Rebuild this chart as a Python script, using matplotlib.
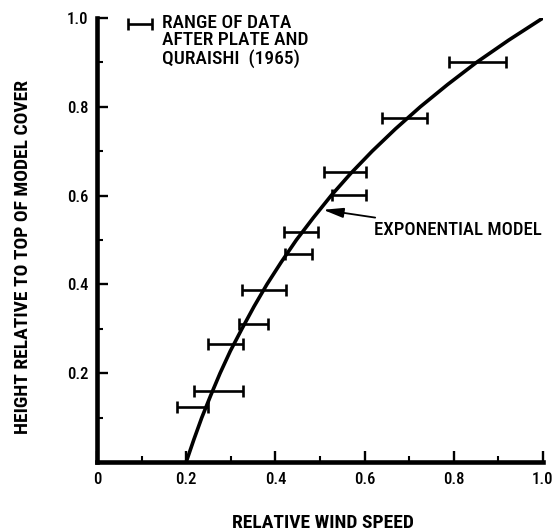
import matplotlib
matplotlib.use("Agg")
import matplotlib.pyplot as plt
from matplotlib import font_manager
import numpy as np

installed = {f.name for f in font_manager.fontManager.ttflist}
preferred = ['Roboto Condensed', 'PT Sans Narrow', 'Archivo Narrow', 'Liberation Sans Narrow']
family = [f for f in preferred if f in installed] + ['DejaVu Sans']
plt.rcParams['font.family'] = family
plt.rcParams['font.weight'] = 'medium'

# Measured wind-speed ranges (Plate and Quraishi, 1965)
heights = [0.124, 0.160, 0.266, 0.311, 0.387, 0.468, 0.518, 0.601, 0.653, 0.775, 0.900]
speed_low = [0.180, 0.218, 0.250, 0.318, 0.325, 0.422, 0.419, 0.527, 0.509, 0.639, 0.790]
speed_high = [0.250, 0.327, 0.327, 0.383, 0.424, 0.482, 0.496, 0.603, 0.603, 0.740, 0.917]

# Exponential model profile: relative height vs relative wind speed
model_height = [0.00, 0.05, 0.10, 0.15, 0.20, 0.25, 0.30, 0.35, 0.40, 0.45, 0.50,
                0.55, 0.60, 0.65, 0.70, 0.75, 0.80, 0.85, 0.90, 0.95, 1.00]
model_speed = [0.200, 0.217, 0.235, 0.255, 0.276, 0.299, 0.325, 0.352, 0.381, 0.413, 0.447,
               0.485, 0.525, 0.569, 0.617, 0.669, 0.725, 0.786, 0.851, 0.923, 1.000]

x_ticks = [0, 0.2, 0.4, 0.6, 0.8, 1.0]
x_ticklabels = ['0', '0.2', '0.4', '0.6', '0.8', '1.0']
y_ticks = [0.2, 0.4, 0.6, 0.8, 1.0]
y_ticklabels = ['0.2', '0.4', '0.6', '0.8', '1.0']

fig = plt.figure(figsize=(5.6, 5.32), dpi=100)
ax = fig.add_axes([0.1732, 0.1316, 0.7964, 0.8346])

ax.plot(model_speed, model_height, color='black', lw=2.6, solid_joinstyle='round',
        solid_capstyle='butt', zorder=3)

lo = np.array(speed_low)
hi = np.array(speed_high)
mid = (lo + hi) / 2
ax.errorbar(mid, heights, xerr=[mid - lo, hi - mid], fmt='none', ecolor='black',
            elinewidth=1.9, capsize=4.3, capthick=1.9, zorder=2)

# Key in the upper-left corner
ax.errorbar([0.0965], [0.986], xerr=[[0.0265], [0.0265]], fmt='none', ecolor='black',
            elinewidth=1.9, capsize=4.3, capthick=1.9, clip_on=False)
ax.text(0.146, 1.010, 'RANGE OF DATA\nAFTER PLATE AND\nQURAISHI  (1965)',
        fontsize=14, va='top', ha='left', linespacing=0.98)

ax.annotate('EXPONENTIAL MODEL', xy=(0.507, 0.568), xytext=(0.621, 0.5225),
            fontsize=13.5, va='center', ha='left',
            arrowprops=dict(arrowstyle='-|>,head_length=0.9,head_width=0.22',
                            color='black', lw=1.3, shrinkA=3, shrinkB=0))

ax.set_xlim(0, 1)
ax.set_ylim(0, 1)
ax.spines['top'].set_visible(False)
ax.spines['right'].set_visible(False)
ax.spines['left'].set_linewidth(3.3)
ax.spines['bottom'].set_linewidth(3.3)

ax.set_xticks(x_ticks)
ax.set_xticklabels(x_ticklabels)
ax.set_yticks(y_ticks)
ax.set_yticklabels(y_ticklabels)
ax.set_xticks(np.arange(1, 10) / 10, minor=True)
ax.set_yticks(np.arange(1, 10) / 10, minor=True)
ax.tick_params(which='major', direction='in', length=8, width=1.7, labelsize=12)
ax.tick_params(which='minor', direction='in', length=4.5, width=1.5)
ax.tick_params(axis='x', which='major', pad=7)
ax.tick_params(axis='y', which='major', pad=6)

ax.set_xlabel('RELATIVE WIND SPEED', fontsize=14, fontweight='bold')
ax.xaxis.set_label_coords(0.507, -0.117)
ax.set_ylabel('HEIGHT RELATIVE TO TOP OF MODEL COVER', fontsize=14, fontweight='bold')
ax.yaxis.set_label_coords(-0.146, 0.462)

fig.savefig('out.png', dpi=100)
